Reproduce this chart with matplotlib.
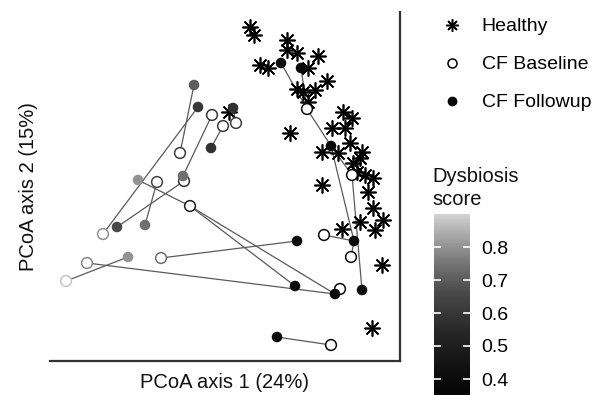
import numpy as np
import matplotlib
matplotlib.use("Agg")
import matplotlib.pyplot as plt
from matplotlib.colors import LinearSegmentedColormap, Normalize
from matplotlib.lines import Line2D

plt.rcParams["font.family"] = ["Liberation Sans", "DejaVu Sans"]

# PCoA coordinates
healthy_x = [0.040, 0.048, 0.114, 0.114, 0.134, 0.176, 0.060, 0.076, 0.156, 0.194,
             0.134, 0.146, 0.170, 0.156, 0.226, 0.244, 0.204, 0.230, 0.120, 0.184,
             0.216, 0.240, 0.264, 0.246, 0.260, 0.254, 0.270, 0.286, 0.184, 0.276,
             0.286, 0.306, 0.260, 0.290, 0.224, 0.304, 0.284, -0.002]
healthy_y = [0.346, 0.330, 0.320, 0.300, 0.294, 0.288, 0.270, 0.264, 0.264, 0.238,
             0.222, 0.216, 0.220, 0.196, 0.176, 0.164, 0.144, 0.144, 0.134, 0.096,
             0.094, 0.114, 0.096, 0.074, 0.084, 0.056, 0.050, 0.044, 0.030, 0.016,
             -0.016, -0.040, -0.044, -0.060, -0.058, -0.130, -0.256, 0.176]

base_id = ["B1", "B2", "B3", "B4", "B5", "B6", "B7", "B8", "B9", "B10", "B11",
           "B12", "B13", "B14", "B15", "B16", "B17"]
base_x = [-0.100, -0.036, -0.014, 0.012, -0.146, -0.092, -0.080, -0.254, -0.286,
          -0.328, -0.138, 0.220, 0.202, 0.188, 0.242, 0.154, 0.244]
base_y = [0.094, 0.170, 0.148, 0.154, 0.036, 0.038, -0.012, -0.068, -0.126,
          -0.162, -0.116, -0.178, -0.290, -0.070, -0.114, 0.182, 0.050]
base_score = [0.62, 0.60, 0.62, 0.62, 0.64, 0.58, 0.50, 0.80, 0.78, 0.88, 0.74,
              0.38, 0.38, 0.38, 0.38, 0.38, 0.38]

follow_id = ["F1", "F2", "F3", "F4", "F5", "F6", "F7", "F8", "F9", "F10", "F11",
             "F12", "F13", "F14", "F15", "F16", "F17", "F18"]
follow_x = [-0.072, -0.064, 0.006, -0.038, -0.184, -0.094, -0.226, -0.170, -0.204,
            0.134, 0.130, 0.210, 0.264, 0.094, 0.248, 0.202, 0.102, 0.142]
follow_y = [0.230, 0.186, 0.184, 0.104, 0.040, 0.048, -0.054, -0.050, -0.114,
            -0.082, -0.172, -0.188, -0.180, -0.274, -0.082, 0.108, 0.274, 0.264]
follow_score = [0.70, 0.60, 0.58, 0.58, 0.80, 0.74, 0.66, 0.74, 0.80,
                0.40, 0.40, 0.38, 0.40, 0.40, 0.38, 0.38, 0.42, 0.38]

# sample-to-sample connections
links = [("F1", "B1"), ("F2", "B8"), ("F3", "B4"), ("B3", "F4"), ("B2", "F6"),
         ("B6", "F7"), ("B5", "F8"), ("F5", "B7"), ("B7", "F12"), ("B7", "F11"),
         ("B9", "F12"), ("B10", "F9"), ("B11", "F10"), ("F14", "B13"),
         ("F17", "B16"), ("F18", "B16"), ("B16", "F16"), ("F16", "F15"),
         ("F16", "B17"), ("B17", "F13"), ("B14", "F15"), ("B15", "F15"),
         ("B12", "F12")]

pos = {k: (x, y) for k, x, y in zip(base_id, base_x, base_y)}
pos.update({k: (x, y) for k, x, y in zip(follow_id, follow_x, follow_y)})

cmap = LinearSegmentedColormap.from_list(
    "dysb", [(0.0, "#000000"), (0.2, "#0e0e0e"), (0.4, "#262626"),
             (0.6, "#484848"), (0.75, "#747474"), (0.9, "#aaaaaa"), (1.0, "#d2d2d2")])
norm = Normalize(vmin=0.3, vmax=0.9)

fig = plt.figure(figsize=(5.98, 3.95), dpi=100)
ax = fig.add_axes([50 / 598, 34 / 395, 350 / 598, 349 / 395])

for a, b in links:
    (x0, y0), (x1, y1) = pos[a], pos[b]
    ax.plot([x0, x1], [y0, y1], color="#5a5a5a", lw=0.9, zorder=1)

ax.scatter(healthy_x, healthy_y, marker=(8, 2, 0), s=120, color="black",
           linewidths=1.2, zorder=2)
ax.scatter(base_x, base_y, marker="o", s=60, facecolors="white",
           edgecolors=cmap(norm(np.array(base_score))), linewidths=1.1, zorder=3)
sc = ax.scatter(follow_x, follow_y, marker="o", s=58, c=follow_score, cmap=cmap,
                norm=norm, edgecolors="none", zorder=4)

ax.set_xlim(-0.36, 0.34)
ax.set_ylim(-0.322, 0.376)
ax.set_xticks([])
ax.set_yticks([])
for side in ["left", "top"]:
    ax.spines[side].set_visible(False)
for side in ["right", "bottom"]:
    ax.spines[side].set_color("#333333")
    ax.spines[side].set_linewidth(1.6)
ax.set_xlabel("PCoA axis 1 (24%)", fontsize=14.5, labelpad=9, color="#111111")
ax.set_ylabel("PCoA axis 2 (15%)", fontsize=14.5, labelpad=9, color="#111111")

handles = [
    Line2D([], [], ls="none", marker=(8, 2, 0), ms=9, mec="black", mew=1.1),
    Line2D([], [], ls="none", marker="o", ms=6.5, mfc="white", mec="black", mew=1.1),
    Line2D([], [], ls="none", marker="o", ms=6, mfc="black", mec="black"),
]
fig.legend(handles, ["Healthy", "CF Baseline", "CF Followup"],
           loc="upper left", bbox_to_anchor=(433 / 598, 1 - 10 / 395),
           frameon=False, fontsize=14, labelspacing=1.05, handletextpad=0.9,
           handlelength=1.2, borderaxespad=0)

fig.text(432 / 598, 1 - 188 / 395, "Dysbiosis\nscore", fontsize=14.5,
         ha="left", va="center", linespacing=1.25, color="#111111")

cax = fig.add_axes([434 / 598, -17 / 395, 36 / 598, 198 / 395])
cb = fig.colorbar(sc, cax=cax)
cb.outline.set_visible(False)
cb.set_ticks([0.4, 0.5, 0.6, 0.7, 0.8])
cb.ax.tick_params(length=0, labelsize=14, pad=8)
for t in [0.4, 0.5, 0.6, 0.7, 0.8]:
    cax.plot([0, 0.18], [t, t], color="white", lw=1.2, transform=cax.get_yaxis_transform())
    cax.plot([0.82, 1], [t, t], color="white", lw=1.2, transform=cax.get_yaxis_transform())

fig.savefig("out.png", dpi=100)
